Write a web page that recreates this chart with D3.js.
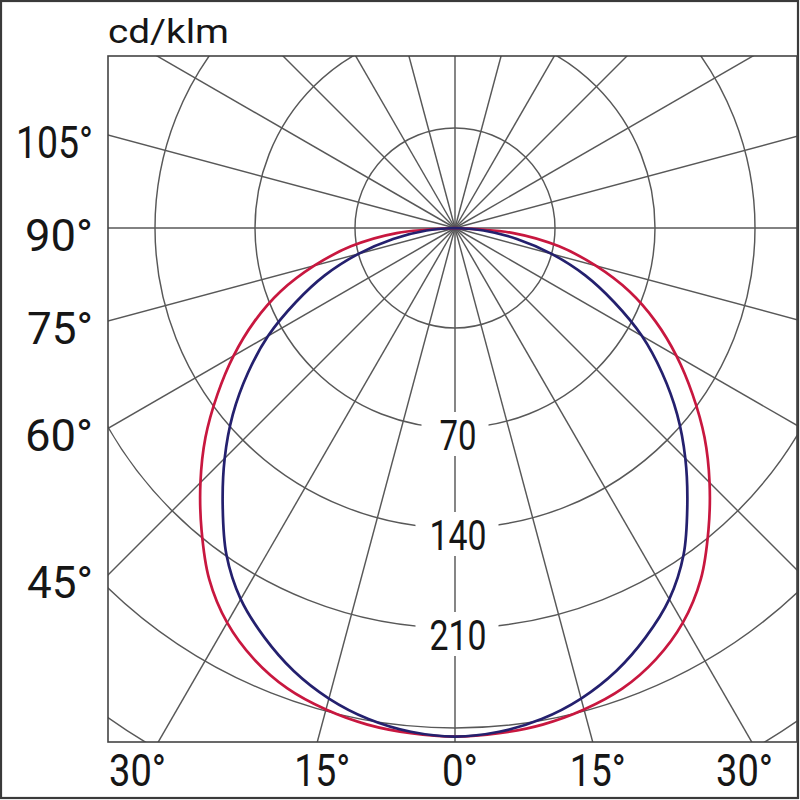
<!DOCTYPE html>
<html>
<head>
<meta charset="utf-8">
<script src="https://cdn.jsdelivr.net/npm/d3@7"></script>
<style>
  html, body { margin: 0; padding: 0; background: #fff; }
  svg { display: block; }
  text { font-family: Roboto, "Noto Sans", sans-serif; fill: #161616; }
</style>
</head>
<body>
<script>
// ---------- data ----------
const unitLabel = "cd/klm";
const angles = [0, 5, 10, 15, 20, 25, 30, 35, 40, 45, 50, 55, 60, 65, 70, 75, 80, 85, 90];
const blueValues = [356, 354, 349, 341, 330, 316, 300, 279, 253, 228, 203, 177, 151, 123, 97, 70, 44, 20, 0];
const redValues  = [356, 355, 353, 349, 343, 333, 319, 300, 276, 252, 228, 203, 179, 155, 130, 102, 74, 41, 0];
const ringValues = [70, 140, 210, 280, 350, 420, 490, 560, 630];
const ringLabels = ["70", "140", "210"];
const rayAngles = d3.range(0, 360, 15);
const leftAxisAngles = [105, 90, 75, 60, 45];
const bottomAxisAngles = [-30, -15, 0, 15, 30];

// ---------- layout ----------
const W = 800, H = 800;
const plot = { left: 108, top: 56, right: 797, bottom: 742 };
const cx = 455, cy = 228;

const svg = d3.select("body").append("svg").attr("width", W).attr("height", H);

svg.append("rect").attr("x", 1).attr("y", 1).attr("width", W - 3).attr("height", H - 3)
  .attr("fill", "#fff").attr("stroke", "#3a3a3a").attr("stroke-width", 2.2);

const rScale = d3.scaleLinear().domain([0, 70]).range([0, 100]);

svg.append("defs").append("clipPath").attr("id", "plotClip")
  .append("rect").attr("x", plot.left).attr("y", plot.top)
  .attr("width", plot.right - plot.left).attr("height", plot.bottom - plot.top);

const g = svg.append("g").attr("clip-path", "url(#plotClip)");
const c = g.append("g").attr("transform", `translate(${cx},${cy})`);

const gridColor = "#585858";
const toRad = a => a * Math.PI / 180;
// rays (angle measured from straight down)
c.selectAll("line.ray").data(rayAngles).join("line")
  .attr("class", "ray")
  .attr("x1", 0).attr("y1", 0)
  .attr("x2", a => -Math.sin(toRad(a)) * 1200)
  .attr("y2", a => Math.cos(toRad(a)) * 1200)
  .attr("stroke", gridColor).attr("stroke-width", 1.45);

// rings
c.selectAll("circle.ring").data(ringValues).join("circle")
  .attr("class", "ring").attr("r", d => rScale(d))
  .attr("fill", "none").attr("stroke", gridColor).attr("stroke-width", 1.45);

// ring labels on rings 2..4 with white gaps
const ringLabelData = ringLabels.map((t, i) => ({ t, r: rScale(ringValues[i + 1]) }));
const ringLabelWidths = { "70": 37, "140": 57, "210": 57 };
const rl = c.selectAll("g.rl").data(ringLabelData).join("g").attr("class", "rl");
rl.append("rect")
  .attr("x", d => -ringLabelWidths[d.t] / 2 - (d.t.length === 2 ? 17 : 13) + 2)
  .attr("y", d => d.r - 16)
  .attr("width", d => ringLabelWidths[d.t] + (d.t.length === 2 ? 30 : 26))
  .attr("height", 30).attr("fill", "#fff");
rl.append("rect")
  .attr("x", -3).attr("y", d => d.r - 16).attr("width", 6).attr("height", 44).attr("fill", "#fff");
rl.append("text")
  .attr("x", 3).attr("y", d => d.r + 22)
  .attr("text-anchor", "middle")
  .attr("font-size", 42)
  .attr("textLength", d => ringLabelWidths[d.t]).attr("lengthAdjust", "spacingAndGlyphs")
  .text(d => d.t);

// curves (symmetric about the 0° direction)
function curvePoints(vals) {
  const right = angles.map((a, i) => ({ a, v: vals[i] }));
  const left = angles.slice(1).map((a, i) => ({ a: -a, v: vals[i + 1] })).reverse();
  return left.concat(right);
}
const line = d3.lineRadial()
  .angle(d => Math.PI - toRad(d.a))
  .radius(d => rScale(d.v))
  .curve(d3.curveCatmullRom.alpha(0.5));

c.append("path").datum(curvePoints(redValues))
  .attr("d", line).attr("fill", "none").attr("stroke", "#c8173f").attr("stroke-width", 2.7);
c.append("path").datum(curvePoints(blueValues))
  .attr("d", line).attr("fill", "none").attr("stroke", "#24206e").attr("stroke-width", 2.7);

// plot border
svg.append("rect").attr("x", plot.left).attr("y", plot.top)
  .attr("width", plot.right - plot.left).attr("height", plot.bottom - plot.top)
  .attr("fill", "none").attr("stroke", "#444").attr("stroke-width", 1.6);

// unit label
svg.append("text").attr("x", 108).attr("y", 43)
  .attr("font-size", 34).attr("textLength", 121).attr("lengthAdjust", "spacingAndGlyphs")
  .text(unitLabel);

// left axis labels (at ray intersections with the left edge)
const leftWidths = { 105: 77, 90: 68, 75: 66, 60: 68, 45: 66 };
svg.selectAll("text.la").data(leftAxisAngles).join("text")
  .attr("class", "la")
  .attr("x", 93)
  .attr("y", a => cy + (cx - plot.left) * Math.cos(toRad(a)) / Math.sin(toRad(a)) + 23)
  .attr("text-anchor", "end").attr("font-size", 45)
  .attr("textLength", a => leftWidths[a]).attr("lengthAdjust", "spacingAndGlyphs")
  .text(a => `${a}°`);

// bottom axis labels (at ray intersections with the bottom edge)
const bottomWidths = { 30: 57, 15: 56, 0: 36 };
svg.selectAll("text.ba").data(bottomAxisAngles).join("text")
  .attr("class", "ba")
  .attr("x", a => {
    const rx = cx + (plot.bottom - cy) * Math.tan(toRad(a));
    if (a <= -30) return plot.left + 1;
    if (a >= 30) return plot.right - 24;
    return rx + 5;
  })
  .attr("y", 786)
  .attr("text-anchor", a => a <= -30 ? "start" : (a >= 30 ? "end" : "middle"))
  .attr("font-size", 45)
  .attr("textLength", a => bottomWidths[Math.abs(a)]).attr("lengthAdjust", "spacingAndGlyphs")
  .text(a => `${Math.abs(a)}°`);
</script>
</body>
</html>
